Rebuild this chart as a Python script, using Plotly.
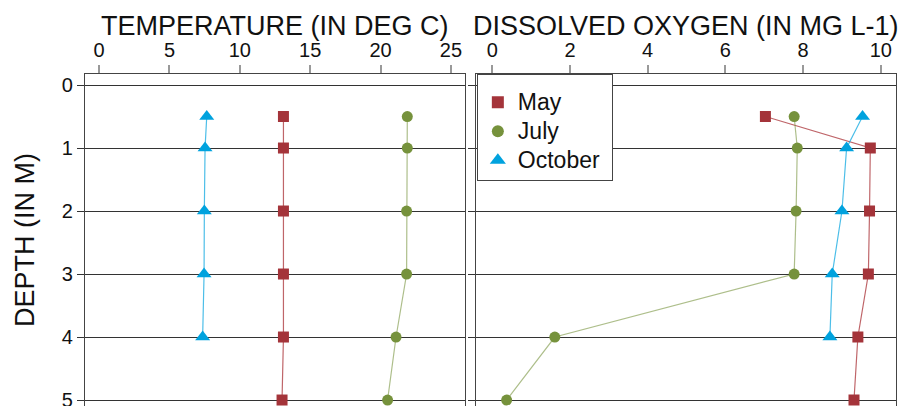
import plotly.graph_objects as go

depth = [0.5, 1, 2, 3, 4, 5]
depth_oct = [0.5, 1, 2, 3, 4]

temp_may = [13.1, 13.1, 13.1, 13.1, 13.1, 13.0]
temp_july = [21.9, 21.9, 21.85, 21.85, 21.1, 20.5]
temp_oct = [7.65, 7.53, 7.48, 7.46, 7.36]

do_may = [7.03, 9.73, 9.71, 9.68, 9.41, 9.31]
do_july = [7.77, 7.85, 7.82, 7.77, 1.61, 0.37]
do_oct = [9.53, 9.12, 9.0, 8.75, 8.69]

depth_ticks = [0, 1, 2, 3, 4, 5]
temp_ticks = [0, 5, 10, 15, 20, 25]
do_ticks = [0, 2, 4, 6, 8, 10]

months = ["May", "July", "October"]
mk_color = {"May": "#A4343A", "July": "#76923C", "October": "#00A2DE"}
ln_color = {"May": "rgba(170,50,55,0.75)", "July": "rgba(118,146,60,0.6)", "October": "rgba(0,162,222,0.7)"}
symbol = {"May": "square", "July": "circle", "October": "triangle-up"}
msize = {"May": 11, "July": 11, "October": 13}

FONT = "Liberation Sans, Arial, sans-serif"
fig = go.Figure()

def add(xs, ys, m, xa, ya):
    fig.add_trace(go.Scatter(
        x=xs, y=ys, mode="lines+markers", xaxis=xa, yaxis=ya, showlegend=False,
        line=dict(color=ln_color[m], width=1.2),
        marker=dict(symbol=symbol[m], color=mk_color[m], size=msize[m], line=dict(width=0)),
        name=m))

add(temp_may, depth, "May", "x", "y")
add(temp_july, depth, "July", "x", "y")
add(temp_oct, depth_oct, "October", "x", "y")
add(do_may, depth, "May", "x2", "y2")
add(do_july, depth, "July", "x2", "y2")
add(do_oct, depth_oct, "October", "x2", "y2")

for m in months:
    fig.add_trace(go.Scatter(
        x=[None], y=[None], mode="markers", xaxis="x2", yaxis="y2",
        name='<span style="font-size:23px">' + m + '&nbsp;</span>',
        marker=dict(symbol=symbol[m], color=mk_color[m], size=msize[m] + 1, line=dict(width=0))))

common_x = dict(side="top", showgrid=False, zeroline=False, showline=True, mirror=True,
                linecolor="#444", linewidth=1, ticks="outside", ticklen=8, tickwidth=1.5,
                tickcolor="#999", tickfont=dict(size=20, color="#111", family=FONT),
                automargin=False, ticklabeloverflow="allow")
common_y = dict(range=[5.095, -0.175], showgrid=True, gridcolor="#333", gridwidth=1,
                zeroline=False, showline=True, mirror=True, linecolor="#444", linewidth=1,
                ticks="outside", ticklen=7, tickcolor="#333", tickvals=depth_ticks,
                tickfont=dict(size=20, color="#111", family=FONT), automargin=False,
                ticklabeloverflow="allow")

title_font = dict(size=27, family=FONT, color="#111")
annotations = [
    dict(text="TEMPERATURE (IN DEG C)", xref="x domain", yref="paper", x=0.5, y=1,
         xanchor="center", yanchor="middle", yshift=48, showarrow=False, font=title_font),
    dict(text="DISSOLVED OXYGEN (IN MG L-1)", xref="x2 domain", yref="paper", x=0.5, y=1,
         xanchor="center", yanchor="middle", yshift=48, showarrow=False, font=title_font),
    dict(text="DEPTH (IN M)", xref="paper", yref="paper", x=0, y=0.5, xanchor="center",
         yanchor="middle", xshift=25, textangle=-90, showarrow=False, font=title_font),
]

fig.update_layout(
    width=910, height=406,
    margin=dict(l=0, r=0, t=74, b=0),
    paper_bgcolor="white", plot_bgcolor="white",
    font=dict(family=FONT, color="#111"),
    xaxis=dict(domain=[0.0934, 0.511], range=[-1, 26], tickvals=temp_ticks,
               anchor="y", **common_x),
    xaxis2=dict(domain=[0.523, 0.985], range=[-0.42, 10.4], tickvals=do_ticks,
                anchor="y2", **common_x),
    yaxis=dict(domain=[0, 1], anchor="x", **common_y),
    yaxis2=dict(domain=[0, 1], anchor="x2", showticklabels=False, **common_y),
    annotations=annotations,
    legend=dict(x=0.524, y=1, xanchor="left", yanchor="top", bgcolor="white",
                bordercolor="#444", borderwidth=1, font=dict(size=20, family=FONT, color="#111"),
                itemwidth=30, title=dict(text=" ", font=dict(size=6))),
)

fig.write_html("out.html", config={"displayModeBar": False},
               post_script="document.body.style.margin='0';document.body.style.overflow='hidden';")
